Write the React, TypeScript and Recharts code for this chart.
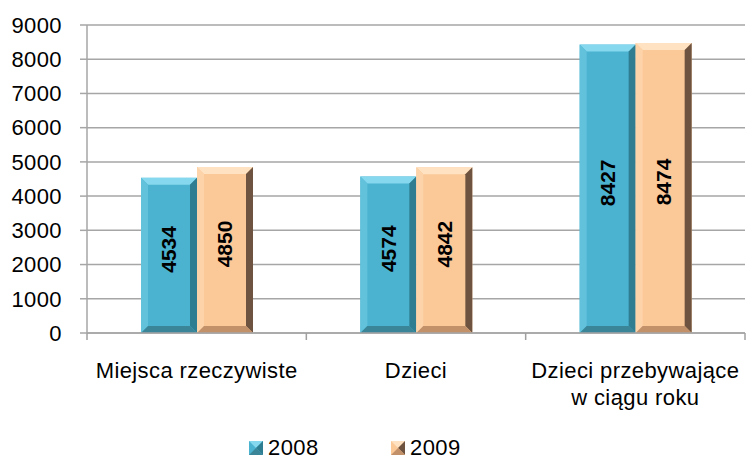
import React from "react";
import { BarChart, Bar, XAxis, YAxis, CartesianGrid, LabelList } from "recharts";

const categories = ["Miejsca rzeczywiste", "Dzieci", "Dzieci przebywające\nw ciągu roku"];
const values2008 = [4534, 4574, 8427];
const values2009 = [4850, 4842, 8474];
const yTicks = [0, 1000, 2000, 3000, 4000, 5000, 6000, 7000, 8000, 9000];

const data = categories.map((name, i) => ({
  name,
  y2008: values2008[i],
  y2009: values2009[i],
}));

const W = 748;
const H = 459;
const M = { top: 25, right: 3, bottom: 0, left: 0 };
const Y_W = 87;
const FONT = "'Liberation Sans', Arial, sans-serif";
const FS = 22;
const LS = 0.4;
const BAND = (W - M.left - M.right - Y_W) / categories.length;

const palette = {
  y2008: { main: "#4bb3d0", top: "#86d8ee", left: "#62c2dc", right: "#2e7d91", bottom: "#3a8598" },
  y2009: { main: "#fbc898", top: "#ffe2c2", left: "#fdd3aa", right: "#6e5440", bottom: "#c2916a" },
};

const bevelShape = (key: "y2008" | "y2009") => (props: any) => {
  const { x, y, width, height } = props;
  if (!height || height <= 0) return null;
  const c = palette[key];
  const b = 7;
  const x2 = x + width;
  const y2 = y + height;
  return (
    <g>
      <rect x={x} y={y} width={width} height={height} fill={c.main} />
      <polygon points={`${x},${y} ${x2},${y} ${x2 - b},${y + b} ${x + b},${y + b}`} fill={c.top} />
      <polygon points={`${x},${y} ${x + b},${y + b} ${x + b},${y2 - b} ${x},${y2}`} fill={c.left} />
      <polygon points={`${x2},${y} ${x2},${y2} ${x2 - b},${y2 - b} ${x2 - b},${y + b}`} fill={c.right} />
      <polygon points={`${x},${y2} ${x + b},${y2 - b} ${x2 - b},${y2 - b} ${x2},${y2}`} fill={c.bottom} />
    </g>
  );
};

const rotatedLabel = (props: any) => {
  const { x, y, width, height, value } = props;
  const cx = x + width / 2;
  const cy = y + height / 2 - 6;
  return (
    <text
      x={cx}
      y={cy}
      transform={`rotate(-90, ${cx}, ${cy})`}
      textAnchor="middle"
      dominantBaseline="central"
      fontFamily={FONT}
      fontWeight="bold"
      fontSize={21}
      fill="#000"
    >
      {value}
    </text>
  );
};

const CategoryTick = (props: any) => {
  const { x, y, payload, index } = props;
  const lines = String(payload.value).split("\n");
  const left = x - BAND / 2;
  return (
    <g>
      <line x1={left} y1={y - 8} x2={left} y2={y - 1} stroke="#a0a0a0" strokeWidth={1.5} />
      {index === categories.length - 1 && (
        <line x1={x + BAND / 2} y1={y - 8} x2={x + BAND / 2} y2={y - 1} stroke="#a0a0a0" strokeWidth={1.5} />
      )}
      {lines.map((l, i) => (
        <text
          key={i}
          x={x}
          y={y + 37 + i * 27}
          textAnchor="middle"
          fontFamily={FONT}
          fontSize={FS}
          letterSpacing={LS}
          fill="#000"
        >
          {l}
        </text>
      ))}
    </g>
  );
};

const LegendSquare = ({ x, c }: { x: number; c: typeof palette.y2008 }) => {
  const y = 441;
  const s = 14;
  return (
    <g>
      <rect x={x} y={y} width={s} height={s} fill={c.main} />
      <polygon points={`${x},${y} ${x + s},${y} ${x + s / 2},${y + s / 2}`} fill={c.top} />
      <polygon points={`${x + s},${y} ${x + s},${y + s} ${x + s / 2},${y + s / 2}`} fill={c.right} />
      <polygon points={`${x},${y + s} ${x + s},${y + s} ${x + s / 2},${y + s / 2}`} fill={c.bottom} />
    </g>
  );
};

export default function App() {
  return (
    <div style={{ position: "absolute", left: 0, top: 0, width: W, height: H, background: "#fff" }}>
      <BarChart
        width={W}
        height={H}
        data={data}
        margin={M}
        barSize={56}
        barGap={0}
      >
        <CartesianGrid vertical={false} stroke="#a6a6a6" strokeWidth={1.5} />
        <XAxis
          dataKey="name"
          height={126}
          interval={0}
          tick={<CategoryTick />}
          tickLine={false}
          axisLine={{ stroke: "#a6a6a6", strokeWidth: 1.5 }}
        />
        <YAxis
          width={Y_W}
          domain={[0, 9000]}
          ticks={yTicks}
          interval={0}
          tickSize={7}
          tickMargin={18}
          tickLine={{ stroke: "#a6a6a6", strokeWidth: 1.5 }}
          axisLine={{ stroke: "#a6a6a6", strokeWidth: 1.5 }}
          tick={{ fontFamily: FONT, fontSize: FS, letterSpacing: LS, fill: "#000" }}
        />
        <Bar dataKey="y2008" isAnimationActive={false} shape={bevelShape("y2008")}>
          <LabelList dataKey="y2008" content={rotatedLabel} />
        </Bar>
        <Bar dataKey="y2009" isAnimationActive={false} shape={bevelShape("y2009")}>
          <LabelList dataKey="y2009" content={rotatedLabel} />
        </Bar>
        <LegendSquare x={249} c={palette.y2008} />
        <text x={268} y={455} fontFamily={FONT} fontSize={FS} letterSpacing={LS} fill="#000">2008</text>
        <LegendSquare x={391} c={palette.y2009} />
        <text x={410} y={455} fontFamily={FONT} fontSize={FS} letterSpacing={LS} fill="#000">2009</text>
      </BarChart>
    </div>
  );
}
